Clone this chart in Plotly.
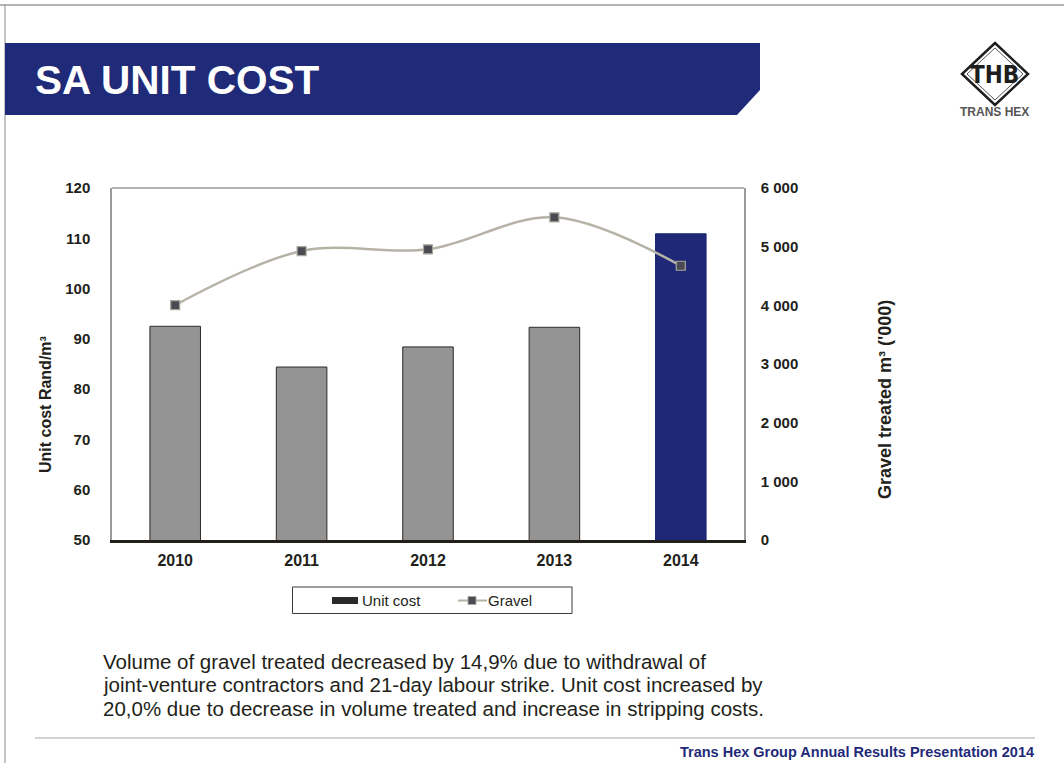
import plotly.graph_objects as go

# ---- data ----
years = ["2010", "2011", "2012", "2013", "2014"]
unit_cost = [92.5, 84.4, 88.4, 92.3, 110.9]          # Rand/m3 (left axis)
gravel = [4005, 4925, 4955, 5500, 4675]             # m3 '000 (right axis)
y2_ticks = [0, 1000, 2000, 3000, 4000, 5000, 6000]
y2_labels = ["0", "1 000", "2 000", "3 000", "4 000", "5 000", "6 000"]
bar_colors = ["#959494", "#959494", "#959494", "#959494", "#1f2877"]
bar_line_colors = ["#2e2b28", "#2e2b28", "#2e2b28", "#2e2b28", "#1f2877"]
comment_lines = [
    "Volume of gravel treated decreased by 14,9% due to withdrawal of",
    "joint-venture contractors and 21-day labour strike. Unit cost increased by",
    "20,0% due to decrease in volume treated and increase in stripping costs.",
]

W, H = 1064, 763
PL, PR, PT, PB = 112, 744, 188, 540  # plot area in px
FONT = "Arial, Liberation Sans, sans-serif"
NAVY = "#1f2a78"


def px(x):
    return (x - PL) / (PR - PL)


def py(y):
    return (PB - y) / (PB - PT)


fig = go.Figure()
fig.add_trace(go.Bar(
    x=years, y=unit_cost, name="Unit cost", width=0.4,
    marker=dict(color=bar_colors, line=dict(color=bar_line_colors, width=1)),
    yaxis="y", showlegend=False,
))
fig.add_trace(go.Scatter(
    x=years, y=gravel, name="Gravel", mode="lines+markers", yaxis="y2",
    line=dict(color="#b6b3a6", width=2.5, shape="spline", smoothing=1.0),
    marker=dict(symbol="square", size=9, color="#4a4a52",
                line=dict(color="#a9a79c", width=1.2)),
    showlegend=False,
))

shapes = []
annotations = []

# page borders
shapes.append(dict(type="line", xref="paper", yref="paper", x0=px(0), x1=px(W),
                   y0=py(5), y1=py(5), line=dict(color="#6b6b6b", width=1)))
shapes.append(dict(type="line", xref="paper", yref="paper", x0=px(5), x1=px(5),
                   y0=py(5), y1=py(H), line=dict(color="#8a8a8a", width=1)))
# title banner
banner = [(5, 43), (760, 43), (760, 90), (737, 115), (5, 115)]
path = "M " + " L ".join(f"{px(a):.5f},{py(b):.5f}" for a, b in banner) + " Z"
shapes.append(dict(type="path", xref="paper", yref="paper", path=path,
                   fillcolor=NAVY, line=dict(width=0)))
annotations.append(dict(xref="paper", yref="paper", x=px(33), y=py(80),
                        xanchor="left", yanchor="middle", showarrow=False,
                        text="<b>SA UNIT COST</b>",
                        font=dict(family=FONT, size=40.5, color="white")))

# logo
def diamond(cx, cy, rx, ry):
    pts = [(cx, cy - ry), (cx + rx, cy), (cx, cy + ry), (cx - rx, cy)]
    return "M " + " L ".join(f"{px(a):.5f},{py(b):.5f}" for a, b in pts) + " Z"

shapes.append(dict(type="path", xref="paper", yref="paper", path=diamond(995, 74, 33, 31),
                   fillcolor="white", line=dict(color="#1e1e1e", width=2.5)))
shapes.append(dict(type="path", xref="paper", yref="paper", path=diamond(995, 74, 28, 26),
                   fillcolor="rgba(0,0,0,0)", line=dict(color="#555", width=1)))
annotations.append(dict(xref="paper", yref="paper", x=px(995), y=py(75),
                        xanchor="center", yanchor="middle", showarrow=False,
                        text="<b>THB</b>",
                        font=dict(family="Liberation Sans Narrow, DejaVu Sans Condensed, Arial", size=24, color="#1e1e1e")))
annotations.append(dict(xref="paper", yref="paper", x=px(995), y=py(112),
                        xanchor="center", yanchor="middle", showarrow=False,
                        text="<b>TRANS HEX</b>",
                        font=dict(family=FONT, size=12, color="#555")))

# plot frame top line
shapes.append(dict(type="line", xref="paper", yref="paper", x0=0, x1=1, y0=1, y1=1,
                   line=dict(color="#9a9a9a", width=1.5)))

# axis titles
annotations.append(dict(xref="paper", yref="paper", x=px(45), y=py(405),
                        xanchor="center", yanchor="middle", showarrow=False, textangle=-90,
                        text="<b>Unit cost Rand/m³</b>",
                        font=dict(family=FONT, size=16, color="#231f1a")))
annotations.append(dict(xref="paper", yref="paper", x=px(885), y=py(400),
                        xanchor="center", yanchor="middle", showarrow=False, textangle=-90,
                        text="<b>Gravel treated m³ ('000)</b>",
                        font=dict(family=FONT, size=18, color="#231f1a")))

# legend box
shapes.append(dict(type="rect", xref="paper", yref="paper", x0=px(292.5), x1=px(572),
                   y0=py(587), y1=py(613.5), fillcolor="white",
                   line=dict(color="#3a3a3a", width=1)))
shapes.append(dict(type="rect", xref="paper", yref="paper", x0=px(332), x1=px(358),
                   y0=py(597), y1=py(604), fillcolor="#2a2a2a",
                   line=dict(width=0)))
shapes.append(dict(type="line", xref="paper", yref="paper", x0=px(458), x1=px(487),
                   y0=py(600.5), y1=py(600.5), line=dict(color="#b6b3a6", width=2)))
shapes.append(dict(type="rect", xref="paper", yref="paper", x0=px(468), x1=px(476),
                   y0=py(596.5), y1=py(604.5), fillcolor="#4a4a52",
                   line=dict(color="#a9a79c", width=1)))
annotations.append(dict(xref="paper", yref="paper", x=px(360), y=py(600.5),
                        xanchor="left", yanchor="middle", showarrow=False,
                        text="Unit cost", font=dict(family=FONT, size=15, color="#231f1a")))
annotations.append(dict(xref="paper", yref="paper", x=px(486), y=py(600.5),
                        xanchor="left", yanchor="middle", showarrow=False,
                        text="Gravel", font=dict(family=FONT, size=15, color="#231f1a")))

# commentary (one annotation per line for exact line spacing)
for i, line in enumerate(comment_lines):
    annotations.append(dict(xref="paper", yref="paper", x=px(101), y=py(661 + 23.5 * i),
                            xanchor="left", yanchor="middle", showarrow=False, align="left",
                            text=line, font=dict(family=FONT, size=20.5, color="#231f1a")))

# footer
shapes.append(dict(type="line", xref="paper", yref="paper", x0=px(35), x1=px(1035),
                   y0=py(738), y1=py(738), line=dict(color="#a8a8a8", width=1)))
annotations.append(dict(xref="paper", yref="paper", x=px(1036), y=py(752),
                        xanchor="right", yanchor="middle", showarrow=False,
                        text="<b>Trans Hex Group Annual Results Presentation 2014</b>",
                        font=dict(family=FONT, size=14.5, color=NAVY)))

tickfont = dict(family=FONT, size=15, color="#231f1a", weight="bold")

fig.update_layout(
    width=W, height=H,
    margin=dict(l=PL, r=W - PR, t=PT, b=H - PB, pad=0),
    paper_bgcolor="white", plot_bgcolor="white",
    showlegend=False,
    bargap=0.6,
    xaxis=dict(type="category", showgrid=False, showline=True, linecolor="#231f1a",
               linewidth=3, ticks="", tickfont=dict(family=FONT, size=16, color="#231f1a", weight="bold"),
               ticklabelstandoff=4, zeroline=False, fixedrange=True),
    yaxis=dict(range=[50, 120], dtick=10, showgrid=False, showline=True,
               linecolor="#9a9a9a", linewidth=1.5, ticks="", tickfont=tickfont,
               ticklabelstandoff=17, zeroline=False),
    yaxis2=dict(range=[0, 6000], tickvals=y2_ticks, ticktext=y2_labels, overlaying="y",
                side="right", showgrid=False, showline=True, linecolor="#9a9a9a",
                linewidth=1.5, ticks="", tickfont=tickfont, ticklabelstandoff=12,
                zeroline=False),
    shapes=shapes,
    annotations=annotations,
)

fig.write_html("out.html")
